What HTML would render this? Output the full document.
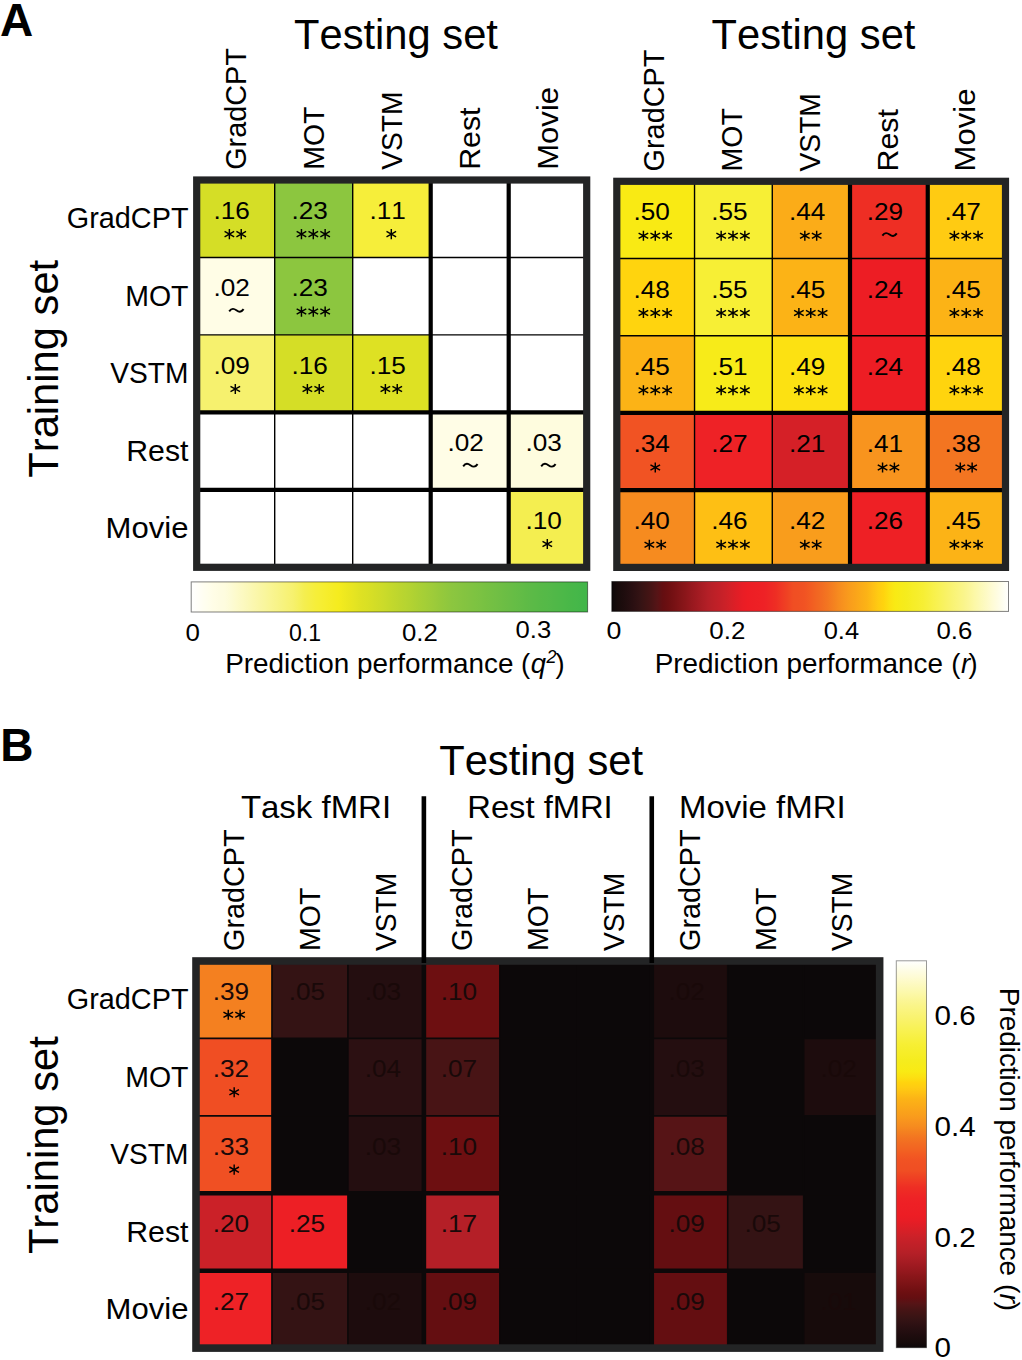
<!DOCTYPE html>
<html><head><meta charset="utf-8"><title>Figure</title>
<style>
html,body{margin:0;padding:0;background:#fff;}
body{width:1022px;height:1360px;overflow:hidden;position:relative;}
svg{position:absolute;left:0;top:0;display:block;}
text{font-family:"Liberation Sans",sans-serif;font-kerning:none;}
</style></head><body>
<svg width="1022" height="1360" viewBox="0 0 1022 1360">
<defs>
<g id="st" stroke="#000" stroke-width="1.45" stroke-linecap="butt" fill="none">
<path d="M0,-5.05V5.05M-4.8,-2.65L4.8,2.65M-4.8,2.65L4.8,-2.65"/>
</g>
<g id="tl" stroke="#000" stroke-width="1.95" fill="none" stroke-linecap="butt">
<path d="M-7.2,1.1C-4.7,-2.4 -2.3,-1.7 0,0C2.3,1.7 4.7,2.4 7.2,-1.1"/>
</g>
<linearGradient id="gG" x1="0" y1="0" x2="1" y2="0"><stop offset="0.0000" stop-color="#ffffff"/><stop offset="0.0143" stop-color="#fffef9"/><stop offset="0.0286" stop-color="#fffef2"/><stop offset="0.0429" stop-color="#fffeec"/><stop offset="0.0571" stop-color="#fffde6"/><stop offset="0.0714" stop-color="#fefce2"/><stop offset="0.0857" stop-color="#fefcde"/><stop offset="0.1000" stop-color="#fdfbd5"/><stop offset="0.1143" stop-color="#fdfacb"/><stop offset="0.1286" stop-color="#fcf9c2"/><stop offset="0.1429" stop-color="#fbf8b9"/><stop offset="0.1571" stop-color="#fbf7af"/><stop offset="0.1714" stop-color="#faf6a6"/><stop offset="0.1857" stop-color="#f9f69d"/><stop offset="0.2000" stop-color="#f9f593"/><stop offset="0.2143" stop-color="#f8f48a"/><stop offset="0.2286" stop-color="#f7f381"/><stop offset="0.2429" stop-color="#f7f277"/><stop offset="0.2571" stop-color="#f6f16e"/><stop offset="0.2714" stop-color="#f5f05f"/><stop offset="0.2857" stop-color="#f4ee50"/><stop offset="0.3000" stop-color="#f5ee45"/><stop offset="0.3143" stop-color="#f6ee3a"/><stop offset="0.3286" stop-color="#f6ee33"/><stop offset="0.3429" stop-color="#f6ed2c"/><stop offset="0.3571" stop-color="#f5ec25"/><stop offset="0.3714" stop-color="#f5ec1e"/><stop offset="0.3857" stop-color="#efe91f"/><stop offset="0.4000" stop-color="#eae620"/><stop offset="0.4143" stop-color="#e4e422"/><stop offset="0.4286" stop-color="#dee123"/><stop offset="0.4429" stop-color="#dae024"/><stop offset="0.4571" stop-color="#d5de26"/><stop offset="0.4714" stop-color="#d0dc28"/><stop offset="0.4857" stop-color="#cbdb2a"/><stop offset="0.5000" stop-color="#c5d92b"/><stop offset="0.5143" stop-color="#c0d72d"/><stop offset="0.5286" stop-color="#bbd52f"/><stop offset="0.5429" stop-color="#b6d431"/><stop offset="0.5571" stop-color="#b1d232"/><stop offset="0.5714" stop-color="#abd034"/><stop offset="0.5857" stop-color="#a6cf36"/><stop offset="0.6000" stop-color="#a1cd38"/><stop offset="0.6143" stop-color="#9ccb3a"/><stop offset="0.6286" stop-color="#96c93b"/><stop offset="0.6429" stop-color="#91c83d"/><stop offset="0.6571" stop-color="#8cc63f"/><stop offset="0.6714" stop-color="#89c540"/><stop offset="0.6857" stop-color="#85c440"/><stop offset="0.7000" stop-color="#82c341"/><stop offset="0.7143" stop-color="#7ec341"/><stop offset="0.7286" stop-color="#7bc242"/><stop offset="0.7429" stop-color="#77c142"/><stop offset="0.7571" stop-color="#74c043"/><stop offset="0.7714" stop-color="#71bf44"/><stop offset="0.7857" stop-color="#6dbe44"/><stop offset="0.8000" stop-color="#6abd45"/><stop offset="0.8143" stop-color="#66bd45"/><stop offset="0.8286" stop-color="#63bc46"/><stop offset="0.8429" stop-color="#5fbb46"/><stop offset="0.8571" stop-color="#5cba47"/><stop offset="0.8714" stop-color="#59ba47"/><stop offset="0.8857" stop-color="#56b947"/><stop offset="0.9000" stop-color="#54b948"/><stop offset="0.9143" stop-color="#51b848"/><stop offset="0.9286" stop-color="#4eb848"/><stop offset="0.9429" stop-color="#4bb848"/><stop offset="0.9571" stop-color="#48b748"/><stop offset="0.9714" stop-color="#46b749"/><stop offset="0.9857" stop-color="#43b649"/><stop offset="1.0000" stop-color="#40b649"/></linearGradient>
<linearGradient id="gH" x1="0" y1="0" x2="1" y2="0"><stop offset="0.0000" stop-color="#0d0809"/><stop offset="0.0143" stop-color="#170b0b"/><stop offset="0.0286" stop-color="#1d0c0d"/><stop offset="0.0429" stop-color="#240e10"/><stop offset="0.0571" stop-color="#2c1012"/><stop offset="0.0714" stop-color="#341314"/><stop offset="0.0857" stop-color="#3e1414"/><stop offset="0.1000" stop-color="#481415"/><stop offset="0.1143" stop-color="#561416"/><stop offset="0.1286" stop-color="#640e11"/><stop offset="0.1429" stop-color="#6d0f11"/><stop offset="0.1571" stop-color="#771114"/><stop offset="0.1714" stop-color="#811417"/><stop offset="0.1857" stop-color="#8b161a"/><stop offset="0.2000" stop-color="#96181e"/><stop offset="0.2143" stop-color="#a01a21"/><stop offset="0.2286" stop-color="#aa1d24"/><stop offset="0.2429" stop-color="#b41f27"/><stop offset="0.2571" stop-color="#bc2027"/><stop offset="0.2714" stop-color="#c32028"/><stop offset="0.2857" stop-color="#cb2128"/><stop offset="0.3000" stop-color="#d52027"/><stop offset="0.3143" stop-color="#df1e26"/><stop offset="0.3286" stop-color="#e81d25"/><stop offset="0.3429" stop-color="#ed1d24"/><stop offset="0.3571" stop-color="#ed1f25"/><stop offset="0.3714" stop-color="#ee2025"/><stop offset="0.3857" stop-color="#ee2226"/><stop offset="0.4000" stop-color="#ee2825"/><stop offset="0.4143" stop-color="#ee2e24"/><stop offset="0.4286" stop-color="#ef3924"/><stop offset="0.4429" stop-color="#ef4323"/><stop offset="0.4571" stop-color="#f04e23"/><stop offset="0.4714" stop-color="#f05023"/><stop offset="0.4857" stop-color="#f15323"/><stop offset="0.5000" stop-color="#f25b22"/><stop offset="0.5143" stop-color="#f26422"/><stop offset="0.5286" stop-color="#f26c22"/><stop offset="0.5429" stop-color="#f37521"/><stop offset="0.5571" stop-color="#f48020"/><stop offset="0.5714" stop-color="#f68b1f"/><stop offset="0.5857" stop-color="#f8941e"/><stop offset="0.6000" stop-color="#f99d1c"/><stop offset="0.6143" stop-color="#faa41a"/><stop offset="0.6286" stop-color="#fbac18"/><stop offset="0.6429" stop-color="#fcb316"/><stop offset="0.6571" stop-color="#febf14"/><stop offset="0.6714" stop-color="#ffcb12"/><stop offset="0.6857" stop-color="#ffd40e"/><stop offset="0.7000" stop-color="#fce112"/><stop offset="0.7143" stop-color="#f9ea14"/><stop offset="0.7286" stop-color="#f7eb19"/><stop offset="0.7429" stop-color="#f5ec1e"/><stop offset="0.7571" stop-color="#f6ed26"/><stop offset="0.7714" stop-color="#f6ee2d"/><stop offset="0.7857" stop-color="#f7ef35"/><stop offset="0.8000" stop-color="#f7f041"/><stop offset="0.8143" stop-color="#f8f14d"/><stop offset="0.8286" stop-color="#f8f259"/><stop offset="0.8429" stop-color="#f9f266"/><stop offset="0.8571" stop-color="#f9f372"/><stop offset="0.8714" stop-color="#faf47e"/><stop offset="0.8857" stop-color="#faf58a"/><stop offset="0.9000" stop-color="#fbf698"/><stop offset="0.9143" stop-color="#fcf8a7"/><stop offset="0.9286" stop-color="#fcf9b6"/><stop offset="0.9429" stop-color="#fdfac4"/><stop offset="0.9571" stop-color="#fefbd3"/><stop offset="0.9714" stop-color="#fefce1"/><stop offset="0.9857" stop-color="#fefef0"/><stop offset="1.0000" stop-color="#ffffff"/></linearGradient>
<linearGradient id="gV" x1="0" y1="1" x2="0" y2="0"><stop offset="0.0000" stop-color="#0d0809"/><stop offset="0.0143" stop-color="#170b0b"/><stop offset="0.0286" stop-color="#1d0c0d"/><stop offset="0.0429" stop-color="#240e10"/><stop offset="0.0571" stop-color="#2c1012"/><stop offset="0.0714" stop-color="#341314"/><stop offset="0.0857" stop-color="#3e1414"/><stop offset="0.1000" stop-color="#481415"/><stop offset="0.1143" stop-color="#561416"/><stop offset="0.1286" stop-color="#640e11"/><stop offset="0.1429" stop-color="#6d0f11"/><stop offset="0.1571" stop-color="#771114"/><stop offset="0.1714" stop-color="#811417"/><stop offset="0.1857" stop-color="#8b161a"/><stop offset="0.2000" stop-color="#96181e"/><stop offset="0.2143" stop-color="#a01a21"/><stop offset="0.2286" stop-color="#aa1d24"/><stop offset="0.2429" stop-color="#b41f27"/><stop offset="0.2571" stop-color="#bc2027"/><stop offset="0.2714" stop-color="#c32028"/><stop offset="0.2857" stop-color="#cb2128"/><stop offset="0.3000" stop-color="#d52027"/><stop offset="0.3143" stop-color="#df1e26"/><stop offset="0.3286" stop-color="#e81d25"/><stop offset="0.3429" stop-color="#ed1d24"/><stop offset="0.3571" stop-color="#ed1f25"/><stop offset="0.3714" stop-color="#ee2025"/><stop offset="0.3857" stop-color="#ee2226"/><stop offset="0.4000" stop-color="#ee2825"/><stop offset="0.4143" stop-color="#ee2e24"/><stop offset="0.4286" stop-color="#ef3924"/><stop offset="0.4429" stop-color="#ef4323"/><stop offset="0.4571" stop-color="#f04e23"/><stop offset="0.4714" stop-color="#f05023"/><stop offset="0.4857" stop-color="#f15323"/><stop offset="0.5000" stop-color="#f25b22"/><stop offset="0.5143" stop-color="#f26422"/><stop offset="0.5286" stop-color="#f26c22"/><stop offset="0.5429" stop-color="#f37521"/><stop offset="0.5571" stop-color="#f48020"/><stop offset="0.5714" stop-color="#f68b1f"/><stop offset="0.5857" stop-color="#f8941e"/><stop offset="0.6000" stop-color="#f99d1c"/><stop offset="0.6143" stop-color="#faa41a"/><stop offset="0.6286" stop-color="#fbac18"/><stop offset="0.6429" stop-color="#fcb316"/><stop offset="0.6571" stop-color="#febf14"/><stop offset="0.6714" stop-color="#ffcb12"/><stop offset="0.6857" stop-color="#ffd40e"/><stop offset="0.7000" stop-color="#fce112"/><stop offset="0.7143" stop-color="#f9ea14"/><stop offset="0.7286" stop-color="#f7eb19"/><stop offset="0.7429" stop-color="#f5ec1e"/><stop offset="0.7571" stop-color="#f6ed26"/><stop offset="0.7714" stop-color="#f6ee2d"/><stop offset="0.7857" stop-color="#f7ef35"/><stop offset="0.8000" stop-color="#f7f041"/><stop offset="0.8143" stop-color="#f8f14d"/><stop offset="0.8286" stop-color="#f8f259"/><stop offset="0.8429" stop-color="#f9f266"/><stop offset="0.8571" stop-color="#f9f372"/><stop offset="0.8714" stop-color="#faf47e"/><stop offset="0.8857" stop-color="#faf58a"/><stop offset="0.9000" stop-color="#fbf698"/><stop offset="0.9143" stop-color="#fcf8a7"/><stop offset="0.9286" stop-color="#fcf9b6"/><stop offset="0.9429" stop-color="#fdfac4"/><stop offset="0.9571" stop-color="#fefbd3"/><stop offset="0.9714" stop-color="#fefce1"/><stop offset="0.9857" stop-color="#fefef0"/><stop offset="1.0000" stop-color="#ffffff"/></linearGradient>
</defs>
<text x="0.00" y="36.00" font-size="46.00" text-anchor="start" font-weight="bold" fill="#000">A</text>
<text x="294.00" y="49.20" font-size="41.70" text-anchor="start" textLength="203.96" lengthAdjust="spacingAndGlyphs" fill="#000">Testing set</text>
<text x="711.50" y="49.20" font-size="41.70" text-anchor="start" textLength="203.96" lengthAdjust="spacingAndGlyphs" fill="#000">Testing set</text>
<text x="0" y="0" transform="translate(57.90,477.70) rotate(-90)" font-size="41.70" text-anchor="start" textLength="217.87" lengthAdjust="spacingAndGlyphs" fill="#000">Training set</text>
<rect x="196.70" y="180.00" width="78.50" height="77.96" fill="#d5de26"/>
<rect x="274.70" y="180.00" width="78.50" height="77.96" fill="#8cc63f"/>
<rect x="352.70" y="180.00" width="78.50" height="77.96" fill="#f6ee3a"/>
<rect x="430.70" y="180.00" width="78.50" height="77.96" fill="#ffffff"/>
<rect x="508.70" y="180.00" width="78.50" height="77.96" fill="#ffffff"/>
<rect x="196.70" y="257.46" width="78.50" height="77.96" fill="#fffde6"/>
<rect x="274.70" y="257.46" width="78.50" height="77.96" fill="#8cc63f"/>
<rect x="352.70" y="257.46" width="78.50" height="77.96" fill="#ffffff"/>
<rect x="430.70" y="257.46" width="78.50" height="77.96" fill="#ffffff"/>
<rect x="508.70" y="257.46" width="78.50" height="77.96" fill="#ffffff"/>
<rect x="196.70" y="334.92" width="78.50" height="77.96" fill="#f6f16e"/>
<rect x="274.70" y="334.92" width="78.50" height="77.96" fill="#d5de26"/>
<rect x="352.70" y="334.92" width="78.50" height="77.96" fill="#dee123"/>
<rect x="430.70" y="334.92" width="78.50" height="77.96" fill="#ffffff"/>
<rect x="508.70" y="334.92" width="78.50" height="77.96" fill="#ffffff"/>
<rect x="196.70" y="412.38" width="78.50" height="77.96" fill="#ffffff"/>
<rect x="274.70" y="412.38" width="78.50" height="77.96" fill="#ffffff"/>
<rect x="352.70" y="412.38" width="78.50" height="77.96" fill="#ffffff"/>
<rect x="430.70" y="412.38" width="78.50" height="77.96" fill="#fffde6"/>
<rect x="508.70" y="412.38" width="78.50" height="77.96" fill="#fefcde"/>
<rect x="196.70" y="489.84" width="78.50" height="77.96" fill="#ffffff"/>
<rect x="274.70" y="489.84" width="78.50" height="77.96" fill="#ffffff"/>
<rect x="352.70" y="489.84" width="78.50" height="77.96" fill="#ffffff"/>
<rect x="430.70" y="489.84" width="78.50" height="77.96" fill="#ffffff"/>
<rect x="508.70" y="489.84" width="78.50" height="77.96" fill="#f4ee50"/>
<line x1="274.70" y1="180.00" x2="274.70" y2="567.30" stroke="#000" stroke-width="1.4"/>
<line x1="352.70" y1="180.00" x2="352.70" y2="567.30" stroke="#000" stroke-width="1.4"/>
<line x1="430.70" y1="180.00" x2="430.70" y2="567.30" stroke="#000" stroke-width="4.2"/>
<line x1="508.70" y1="180.00" x2="508.70" y2="567.30" stroke="#000" stroke-width="4.2"/>
<line x1="196.70" y1="257.46" x2="586.70" y2="257.46" stroke="#000" stroke-width="1.4"/>
<line x1="196.70" y1="334.92" x2="586.70" y2="334.92" stroke="#000" stroke-width="1.4"/>
<line x1="196.70" y1="412.38" x2="586.70" y2="412.38" stroke="#000" stroke-width="4.2"/>
<line x1="196.70" y1="489.84" x2="586.70" y2="489.84" stroke="#000" stroke-width="4.2"/>
<rect x="196.70" y="180.00" width="390.00" height="387.30" fill="none" stroke="#232425" stroke-width="7.2"/>
<text x="213.50" y="218.73" font-size="24.77" text-anchor="start" textLength="36.40" lengthAdjust="spacingAndGlyphs" fill="#000">.16</text>
<use href="#st" x="229.37" y="234.13"/>
<use href="#st" x="241.22" y="234.13"/>
<text x="291.50" y="218.73" font-size="24.77" text-anchor="start" textLength="36.40" lengthAdjust="spacingAndGlyphs" fill="#000">.23</text>
<use href="#st" x="301.45" y="234.13"/>
<use href="#st" x="313.30" y="234.13"/>
<use href="#st" x="325.15" y="234.13"/>
<text x="369.50" y="218.73" font-size="24.77" text-anchor="start" textLength="36.40" lengthAdjust="spacingAndGlyphs" fill="#000">.11</text>
<use href="#st" x="391.30" y="234.13"/>
<text x="213.50" y="296.19" font-size="24.77" text-anchor="start" textLength="36.40" lengthAdjust="spacingAndGlyphs" fill="#000">.02</text>
<use href="#tl" x="236.40" y="310.29"/>
<text x="291.50" y="296.19" font-size="24.77" text-anchor="start" textLength="36.40" lengthAdjust="spacingAndGlyphs" fill="#000">.23</text>
<use href="#st" x="301.45" y="311.59"/>
<use href="#st" x="313.30" y="311.59"/>
<use href="#st" x="325.15" y="311.59"/>
<text x="213.50" y="373.65" font-size="24.77" text-anchor="start" textLength="36.40" lengthAdjust="spacingAndGlyphs" fill="#000">.09</text>
<use href="#st" x="235.30" y="389.05"/>
<text x="291.50" y="373.65" font-size="24.77" text-anchor="start" textLength="36.40" lengthAdjust="spacingAndGlyphs" fill="#000">.16</text>
<use href="#st" x="307.38" y="389.05"/>
<use href="#st" x="319.23" y="389.05"/>
<text x="369.50" y="373.65" font-size="24.77" text-anchor="start" textLength="36.40" lengthAdjust="spacingAndGlyphs" fill="#000">.15</text>
<use href="#st" x="385.38" y="389.05"/>
<use href="#st" x="397.23" y="389.05"/>
<text x="447.50" y="451.11" font-size="24.77" text-anchor="start" textLength="36.40" lengthAdjust="spacingAndGlyphs" fill="#000">.02</text>
<use href="#tl" x="470.40" y="465.21"/>
<text x="525.50" y="451.11" font-size="24.77" text-anchor="start" textLength="36.40" lengthAdjust="spacingAndGlyphs" fill="#000">.03</text>
<use href="#tl" x="548.40" y="465.21"/>
<text x="525.50" y="528.57" font-size="24.77" text-anchor="start" textLength="36.40" lengthAdjust="spacingAndGlyphs" fill="#000">.10</text>
<use href="#st" x="547.30" y="543.97"/>
<text x="188.50" y="228.33" font-size="29.68" text-anchor="end" textLength="121.68" lengthAdjust="spacingAndGlyphs" fill="#000">GradCPT</text>
<text x="0" y="0" transform="translate(246.10,169.80) rotate(-90)" font-size="29.68" text-anchor="start" textLength="121.68" lengthAdjust="spacingAndGlyphs" fill="#000">GradCPT</text>
<text x="188.50" y="305.79" font-size="29.68" text-anchor="end" textLength="63.30" lengthAdjust="spacingAndGlyphs" fill="#000">MOT</text>
<text x="0" y="0" transform="translate(324.10,169.80) rotate(-90)" font-size="29.68" text-anchor="start" textLength="63.30" lengthAdjust="spacingAndGlyphs" fill="#000">MOT</text>
<text x="188.50" y="383.25" font-size="29.68" text-anchor="end" textLength="78.19" lengthAdjust="spacingAndGlyphs" fill="#000">VSTM</text>
<text x="0" y="0" transform="translate(402.10,169.80) rotate(-90)" font-size="29.68" text-anchor="start" textLength="78.19" lengthAdjust="spacingAndGlyphs" fill="#000">VSTM</text>
<text x="188.50" y="460.71" font-size="29.68" text-anchor="end" textLength="62.25" lengthAdjust="spacingAndGlyphs" fill="#000">Rest</text>
<text x="0" y="0" transform="translate(480.10,169.80) rotate(-90)" font-size="29.68" text-anchor="start" textLength="62.25" lengthAdjust="spacingAndGlyphs" fill="#000">Rest</text>
<text x="188.50" y="538.17" font-size="29.68" text-anchor="end" textLength="82.87" lengthAdjust="spacingAndGlyphs" fill="#000">Movie</text>
<text x="0" y="0" transform="translate(558.10,169.80) rotate(-90)" font-size="29.68" text-anchor="start" textLength="82.87" lengthAdjust="spacingAndGlyphs" fill="#000">Movie</text>
<rect x="616.80" y="181.30" width="78.24" height="77.72" fill="#f9ea14"/>
<rect x="694.54" y="181.30" width="78.24" height="77.72" fill="#f7ef35"/>
<rect x="772.28" y="181.30" width="78.24" height="77.72" fill="#fbac18"/>
<rect x="850.02" y="181.30" width="78.24" height="77.72" fill="#ee2e24"/>
<rect x="927.76" y="181.30" width="78.24" height="77.72" fill="#ffcb12"/>
<rect x="616.80" y="258.52" width="78.24" height="77.72" fill="#ffd40e"/>
<rect x="694.54" y="258.52" width="78.24" height="77.72" fill="#f7ef35"/>
<rect x="772.28" y="258.52" width="78.24" height="77.72" fill="#fcb316"/>
<rect x="850.02" y="258.52" width="78.24" height="77.72" fill="#ed1d24"/>
<rect x="927.76" y="258.52" width="78.24" height="77.72" fill="#fcb316"/>
<rect x="616.80" y="335.74" width="78.24" height="77.72" fill="#fcb316"/>
<rect x="694.54" y="335.74" width="78.24" height="77.72" fill="#f7eb19"/>
<rect x="772.28" y="335.74" width="78.24" height="77.72" fill="#fce112"/>
<rect x="850.02" y="335.74" width="78.24" height="77.72" fill="#ed1d24"/>
<rect x="927.76" y="335.74" width="78.24" height="77.72" fill="#ffd40e"/>
<rect x="616.80" y="412.96" width="78.24" height="77.72" fill="#f15323"/>
<rect x="694.54" y="412.96" width="78.24" height="77.72" fill="#ee2226"/>
<rect x="772.28" y="412.96" width="78.24" height="77.72" fill="#d52027"/>
<rect x="850.02" y="412.96" width="78.24" height="77.72" fill="#f8941e"/>
<rect x="927.76" y="412.96" width="78.24" height="77.72" fill="#f37521"/>
<rect x="616.80" y="490.18" width="78.24" height="77.72" fill="#f68b1f"/>
<rect x="694.54" y="490.18" width="78.24" height="77.72" fill="#febf14"/>
<rect x="772.28" y="490.18" width="78.24" height="77.72" fill="#f99d1c"/>
<rect x="850.02" y="490.18" width="78.24" height="77.72" fill="#ee2025"/>
<rect x="927.76" y="490.18" width="78.24" height="77.72" fill="#fcb316"/>
<line x1="694.54" y1="181.30" x2="694.54" y2="567.40" stroke="#000" stroke-width="1.4"/>
<line x1="772.28" y1="181.30" x2="772.28" y2="567.40" stroke="#000" stroke-width="1.4"/>
<line x1="850.02" y1="181.30" x2="850.02" y2="567.40" stroke="#000" stroke-width="4.2"/>
<line x1="927.76" y1="181.30" x2="927.76" y2="567.40" stroke="#000" stroke-width="4.2"/>
<line x1="616.80" y1="258.52" x2="1005.50" y2="258.52" stroke="#000" stroke-width="1.4"/>
<line x1="616.80" y1="335.74" x2="1005.50" y2="335.74" stroke="#000" stroke-width="1.4"/>
<line x1="616.80" y1="412.96" x2="1005.50" y2="412.96" stroke="#000" stroke-width="4.2"/>
<line x1="616.80" y1="490.18" x2="1005.50" y2="490.18" stroke="#000" stroke-width="4.2"/>
<rect x="616.80" y="181.30" width="388.70" height="386.10" fill="none" stroke="#232425" stroke-width="7.2"/>
<text x="633.47" y="220.41" font-size="24.77" text-anchor="start" textLength="36.40" lengthAdjust="spacingAndGlyphs" fill="#000">.50</text>
<use href="#st" x="643.42" y="235.81"/>
<use href="#st" x="655.27" y="235.81"/>
<use href="#st" x="667.12" y="235.81"/>
<text x="711.21" y="220.41" font-size="24.77" text-anchor="start" textLength="36.40" lengthAdjust="spacingAndGlyphs" fill="#000">.55</text>
<use href="#st" x="721.16" y="235.81"/>
<use href="#st" x="733.01" y="235.81"/>
<use href="#st" x="744.86" y="235.81"/>
<text x="788.95" y="220.41" font-size="24.77" text-anchor="start" textLength="36.40" lengthAdjust="spacingAndGlyphs" fill="#000">.44</text>
<use href="#st" x="804.83" y="235.81"/>
<use href="#st" x="816.67" y="235.81"/>
<text x="866.69" y="220.41" font-size="24.77" text-anchor="start" textLength="36.40" lengthAdjust="spacingAndGlyphs" fill="#000">.29</text>
<use href="#tl" x="889.59" y="234.51"/>
<text x="944.43" y="220.41" font-size="24.77" text-anchor="start" textLength="36.40" lengthAdjust="spacingAndGlyphs" fill="#000">.47</text>
<use href="#st" x="954.38" y="235.81"/>
<use href="#st" x="966.23" y="235.81"/>
<use href="#st" x="978.08" y="235.81"/>
<text x="633.47" y="297.63" font-size="24.77" text-anchor="start" textLength="36.40" lengthAdjust="spacingAndGlyphs" fill="#000">.48</text>
<use href="#st" x="643.42" y="313.03"/>
<use href="#st" x="655.27" y="313.03"/>
<use href="#st" x="667.12" y="313.03"/>
<text x="711.21" y="297.63" font-size="24.77" text-anchor="start" textLength="36.40" lengthAdjust="spacingAndGlyphs" fill="#000">.55</text>
<use href="#st" x="721.16" y="313.03"/>
<use href="#st" x="733.01" y="313.03"/>
<use href="#st" x="744.86" y="313.03"/>
<text x="788.95" y="297.63" font-size="24.77" text-anchor="start" textLength="36.40" lengthAdjust="spacingAndGlyphs" fill="#000">.45</text>
<use href="#st" x="798.90" y="313.03"/>
<use href="#st" x="810.75" y="313.03"/>
<use href="#st" x="822.60" y="313.03"/>
<text x="866.69" y="297.63" font-size="24.77" text-anchor="start" textLength="36.40" lengthAdjust="spacingAndGlyphs" fill="#000">.24</text>
<text x="944.43" y="297.63" font-size="24.77" text-anchor="start" textLength="36.40" lengthAdjust="spacingAndGlyphs" fill="#000">.45</text>
<use href="#st" x="954.38" y="313.03"/>
<use href="#st" x="966.23" y="313.03"/>
<use href="#st" x="978.08" y="313.03"/>
<text x="633.47" y="374.85" font-size="24.77" text-anchor="start" textLength="36.40" lengthAdjust="spacingAndGlyphs" fill="#000">.45</text>
<use href="#st" x="643.42" y="390.25"/>
<use href="#st" x="655.27" y="390.25"/>
<use href="#st" x="667.12" y="390.25"/>
<text x="711.21" y="374.85" font-size="24.77" text-anchor="start" textLength="36.40" lengthAdjust="spacingAndGlyphs" fill="#000">.51</text>
<use href="#st" x="721.16" y="390.25"/>
<use href="#st" x="733.01" y="390.25"/>
<use href="#st" x="744.86" y="390.25"/>
<text x="788.95" y="374.85" font-size="24.77" text-anchor="start" textLength="36.40" lengthAdjust="spacingAndGlyphs" fill="#000">.49</text>
<use href="#st" x="798.90" y="390.25"/>
<use href="#st" x="810.75" y="390.25"/>
<use href="#st" x="822.60" y="390.25"/>
<text x="866.69" y="374.85" font-size="24.77" text-anchor="start" textLength="36.40" lengthAdjust="spacingAndGlyphs" fill="#000">.24</text>
<text x="944.43" y="374.85" font-size="24.77" text-anchor="start" textLength="36.40" lengthAdjust="spacingAndGlyphs" fill="#000">.48</text>
<use href="#st" x="954.38" y="390.25"/>
<use href="#st" x="966.23" y="390.25"/>
<use href="#st" x="978.08" y="390.25"/>
<text x="633.47" y="452.07" font-size="24.77" text-anchor="start" textLength="36.40" lengthAdjust="spacingAndGlyphs" fill="#000">.34</text>
<use href="#st" x="655.27" y="467.47"/>
<text x="711.21" y="452.07" font-size="24.77" text-anchor="start" textLength="36.40" lengthAdjust="spacingAndGlyphs" fill="#000">.27</text>
<text x="788.95" y="452.07" font-size="24.77" text-anchor="start" textLength="36.40" lengthAdjust="spacingAndGlyphs" fill="#000">.21</text>
<text x="866.69" y="452.07" font-size="24.77" text-anchor="start" textLength="36.40" lengthAdjust="spacingAndGlyphs" fill="#000">.41</text>
<use href="#st" x="882.56" y="467.47"/>
<use href="#st" x="894.41" y="467.47"/>
<text x="944.43" y="452.07" font-size="24.77" text-anchor="start" textLength="36.40" lengthAdjust="spacingAndGlyphs" fill="#000">.38</text>
<use href="#st" x="960.30" y="467.47"/>
<use href="#st" x="972.15" y="467.47"/>
<text x="633.47" y="529.29" font-size="24.77" text-anchor="start" textLength="36.40" lengthAdjust="spacingAndGlyphs" fill="#000">.40</text>
<use href="#st" x="649.35" y="544.69"/>
<use href="#st" x="661.19" y="544.69"/>
<text x="711.21" y="529.29" font-size="24.77" text-anchor="start" textLength="36.40" lengthAdjust="spacingAndGlyphs" fill="#000">.46</text>
<use href="#st" x="721.16" y="544.69"/>
<use href="#st" x="733.01" y="544.69"/>
<use href="#st" x="744.86" y="544.69"/>
<text x="788.95" y="529.29" font-size="24.77" text-anchor="start" textLength="36.40" lengthAdjust="spacingAndGlyphs" fill="#000">.42</text>
<use href="#st" x="804.83" y="544.69"/>
<use href="#st" x="816.67" y="544.69"/>
<text x="866.69" y="529.29" font-size="24.77" text-anchor="start" textLength="36.40" lengthAdjust="spacingAndGlyphs" fill="#000">.26</text>
<text x="944.43" y="529.29" font-size="24.77" text-anchor="start" textLength="36.40" lengthAdjust="spacingAndGlyphs" fill="#000">.45</text>
<use href="#st" x="954.38" y="544.69"/>
<use href="#st" x="966.23" y="544.69"/>
<use href="#st" x="978.08" y="544.69"/>
<text x="0" y="0" transform="translate(664.47,171.40) rotate(-90)" font-size="29.68" text-anchor="start" textLength="121.68" lengthAdjust="spacingAndGlyphs" fill="#000">GradCPT</text>
<text x="0" y="0" transform="translate(742.21,171.40) rotate(-90)" font-size="29.68" text-anchor="start" textLength="63.30" lengthAdjust="spacingAndGlyphs" fill="#000">MOT</text>
<text x="0" y="0" transform="translate(819.95,171.40) rotate(-90)" font-size="29.68" text-anchor="start" textLength="78.19" lengthAdjust="spacingAndGlyphs" fill="#000">VSTM</text>
<text x="0" y="0" transform="translate(897.69,171.40) rotate(-90)" font-size="29.68" text-anchor="start" textLength="62.25" lengthAdjust="spacingAndGlyphs" fill="#000">Rest</text>
<text x="0" y="0" transform="translate(975.43,171.40) rotate(-90)" font-size="29.68" text-anchor="start" textLength="82.87" lengthAdjust="spacingAndGlyphs" fill="#000">Movie</text>
<rect x="191.2" y="581.9" width="396.4" height="30.1" fill="url(#gG)" stroke="#000" stroke-opacity="0.5" stroke-width="1"/>
<rect x="611.8" y="581.5" width="396.7" height="29.9" fill="url(#gH)" stroke="#000" stroke-opacity="0.5" stroke-width="1"/>
<text x="185.49" y="640.60" font-size="24.00" text-anchor="start" textLength="14.43" lengthAdjust="spacingAndGlyphs" fill="#000">0</text>
<text x="288.95" y="640.60" font-size="24.00" text-anchor="start" textLength="32.13" lengthAdjust="spacingAndGlyphs" fill="#000">0.1</text>
<text x="401.94" y="640.60" font-size="24.00" text-anchor="start" textLength="35.80" lengthAdjust="spacingAndGlyphs" fill="#000">0.2</text>
<text x="515.55" y="638.10" font-size="24.00" text-anchor="start" textLength="35.63" lengthAdjust="spacingAndGlyphs" fill="#000">0.3</text>
<text x="606.45" y="638.80" font-size="24.00" text-anchor="start" textLength="14.89" lengthAdjust="spacingAndGlyphs" fill="#000">0</text>
<text x="709.34" y="638.80" font-size="24.00" text-anchor="start" textLength="36.01" lengthAdjust="spacingAndGlyphs" fill="#000">0.2</text>
<text x="823.65" y="638.80" font-size="24.00" text-anchor="start" textLength="35.44" lengthAdjust="spacingAndGlyphs" fill="#000">0.4</text>
<text x="936.44" y="638.80" font-size="24.00" text-anchor="start" textLength="35.84" lengthAdjust="spacingAndGlyphs" fill="#000">0.6</text>
<text x="225.20" y="672.90" font-size="27.40" text-anchor="start" textLength="288.30" lengthAdjust="spacingAndGlyphs" fill="#000">Prediction performance</text>
<text x="521.10" y="672.90" font-size="27.40" text-anchor="start" fill="#000">(</text>
<text x="530.70" y="672.90" font-size="27.40" text-anchor="start" font-style="italic" fill="#000">q</text>
<text x="546.60" y="663.40" font-size="18.00" text-anchor="start" font-style="italic" fill="#000">2</text>
<text x="555.40" y="672.90" font-size="27.40" text-anchor="start" fill="#000">)</text>
<text x="654.70" y="672.90" font-size="27.40" text-anchor="start" textLength="288.30" lengthAdjust="spacingAndGlyphs" fill="#000">Prediction performance</text>
<text x="951.20" y="672.90" font-size="27.40" text-anchor="start" fill="#000">(</text>
<text x="960.90" y="672.90" font-size="27.40" text-anchor="start" font-style="italic" fill="#000">r</text>
<text x="968.40" y="672.90" font-size="27.40" text-anchor="start" fill="#000">)</text>
<text x="0.20" y="761.00" font-size="46.00" text-anchor="start" font-weight="bold" fill="#000">B</text>
<text x="439.20" y="774.60" font-size="41.70" text-anchor="start" textLength="203.96" lengthAdjust="spacingAndGlyphs" fill="#000">Testing set</text>
<text x="0" y="0" transform="translate(57.90,1254.10) rotate(-90)" font-size="41.70" text-anchor="start" textLength="217.87" lengthAdjust="spacingAndGlyphs" fill="#000">Training set</text>
<text x="240.90" y="817.90" font-size="32.00" text-anchor="start" textLength="150.15" lengthAdjust="spacingAndGlyphs" fill="#000">Task fMRI</text>
<text x="467.30" y="817.90" font-size="32.00" text-anchor="start" textLength="145.36" lengthAdjust="spacingAndGlyphs" fill="#000">Rest fMRI</text>
<text x="679.00" y="817.90" font-size="32.00" text-anchor="start" textLength="166.65" lengthAdjust="spacingAndGlyphs" fill="#000">Movie fMRI</text>
<rect x="196.00" y="961.00" width="76.46" height="77.92" fill="#f48020"/>
<rect x="271.96" y="961.00" width="76.46" height="77.92" fill="#341314"/>
<rect x="347.92" y="961.00" width="76.46" height="77.92" fill="#240e10"/>
<rect x="423.88" y="961.00" width="76.46" height="77.92" fill="#6d0f11"/>
<rect x="499.84" y="961.00" width="76.46" height="77.92" fill="#0c0809"/>
<rect x="575.80" y="961.00" width="76.46" height="77.92" fill="#0c0809"/>
<rect x="651.76" y="961.00" width="76.46" height="77.92" fill="#1d0c0d"/>
<rect x="727.72" y="961.00" width="76.46" height="77.92" fill="#0c0809"/>
<rect x="803.68" y="961.00" width="76.46" height="77.92" fill="#0c0809"/>
<rect x="196.00" y="1038.42" width="76.46" height="77.92" fill="#f04e23"/>
<rect x="271.96" y="1038.42" width="76.46" height="77.92" fill="#0c0809"/>
<rect x="347.92" y="1038.42" width="76.46" height="77.92" fill="#2c1012"/>
<rect x="423.88" y="1038.42" width="76.46" height="77.92" fill="#481415"/>
<rect x="499.84" y="1038.42" width="76.46" height="77.92" fill="#0c0809"/>
<rect x="575.80" y="1038.42" width="76.46" height="77.92" fill="#0c0809"/>
<rect x="651.76" y="1038.42" width="76.46" height="77.92" fill="#240e10"/>
<rect x="727.72" y="1038.42" width="76.46" height="77.92" fill="#0c0809"/>
<rect x="803.68" y="1038.42" width="76.46" height="77.92" fill="#1d0c0d"/>
<rect x="196.00" y="1115.84" width="76.46" height="77.92" fill="#f05023"/>
<rect x="271.96" y="1115.84" width="76.46" height="77.92" fill="#0c0809"/>
<rect x="347.92" y="1115.84" width="76.46" height="77.92" fill="#240e10"/>
<rect x="423.88" y="1115.84" width="76.46" height="77.92" fill="#6d0f11"/>
<rect x="499.84" y="1115.84" width="76.46" height="77.92" fill="#0c0809"/>
<rect x="575.80" y="1115.84" width="76.46" height="77.92" fill="#0c0809"/>
<rect x="651.76" y="1115.84" width="76.46" height="77.92" fill="#561416"/>
<rect x="727.72" y="1115.84" width="76.46" height="77.92" fill="#0c0809"/>
<rect x="803.68" y="1115.84" width="76.46" height="77.92" fill="#0c0809"/>
<rect x="196.00" y="1193.26" width="76.46" height="77.92" fill="#cb2128"/>
<rect x="271.96" y="1193.26" width="76.46" height="77.92" fill="#ed1f25"/>
<rect x="347.92" y="1193.26" width="76.46" height="77.92" fill="#0c0809"/>
<rect x="423.88" y="1193.26" width="76.46" height="77.92" fill="#b41f27"/>
<rect x="499.84" y="1193.26" width="76.46" height="77.92" fill="#0c0809"/>
<rect x="575.80" y="1193.26" width="76.46" height="77.92" fill="#0c0809"/>
<rect x="651.76" y="1193.26" width="76.46" height="77.92" fill="#640e11"/>
<rect x="727.72" y="1193.26" width="76.46" height="77.92" fill="#341314"/>
<rect x="803.68" y="1193.26" width="76.46" height="77.92" fill="#0c0809"/>
<rect x="196.00" y="1270.68" width="76.46" height="77.92" fill="#ee2226"/>
<rect x="271.96" y="1270.68" width="76.46" height="77.92" fill="#341314"/>
<rect x="347.92" y="1270.68" width="76.46" height="77.92" fill="#1d0c0d"/>
<rect x="423.88" y="1270.68" width="76.46" height="77.92" fill="#640e11"/>
<rect x="499.84" y="1270.68" width="76.46" height="77.92" fill="#0c0809"/>
<rect x="575.80" y="1270.68" width="76.46" height="77.92" fill="#0c0809"/>
<rect x="651.76" y="1270.68" width="76.46" height="77.92" fill="#640e11"/>
<rect x="727.72" y="1270.68" width="76.46" height="77.92" fill="#0c0809"/>
<rect x="803.68" y="1270.68" width="76.46" height="77.92" fill="#170b0b"/>
<line x1="271.96" y1="961.00" x2="271.96" y2="1348.10" stroke="#0c0809" stroke-width="1.6"/>
<line x1="347.92" y1="961.00" x2="347.92" y2="1348.10" stroke="#0c0809" stroke-width="1.6"/>
<line x1="423.88" y1="961.00" x2="423.88" y2="1348.10" stroke="#0c0809" stroke-width="4.6"/>
<line x1="499.84" y1="961.00" x2="499.84" y2="1348.10" stroke="#0c0809" stroke-width="1.6"/>
<line x1="575.80" y1="961.00" x2="575.80" y2="1348.10" stroke="#0c0809" stroke-width="1.6"/>
<line x1="651.76" y1="961.00" x2="651.76" y2="1348.10" stroke="#0c0809" stroke-width="4.6"/>
<line x1="727.72" y1="961.00" x2="727.72" y2="1348.10" stroke="#0c0809" stroke-width="1.6"/>
<line x1="803.68" y1="961.00" x2="803.68" y2="1348.10" stroke="#0c0809" stroke-width="1.6"/>
<line x1="196.00" y1="1038.42" x2="879.64" y2="1038.42" stroke="#0c0809" stroke-width="1.6"/>
<line x1="196.00" y1="1115.84" x2="879.64" y2="1115.84" stroke="#0c0809" stroke-width="1.6"/>
<line x1="196.00" y1="1193.26" x2="879.64" y2="1193.26" stroke="#0c0809" stroke-width="4.6"/>
<line x1="196.00" y1="1270.68" x2="879.64" y2="1270.68" stroke="#0c0809" stroke-width="4.6"/>
<rect x="196.00" y="961.00" width="683.64" height="387.10" fill="none" stroke="#232425" stroke-width="7.6"/>
<text x="212.78" y="1000.01" font-size="24.77" text-anchor="start" textLength="36.40" lengthAdjust="spacingAndGlyphs" fill="#190909">.39</text>
<use href="#st" x="228.25" y="1014.81"/>
<use href="#st" x="240.10" y="1014.81"/>
<text x="288.74" y="1000.01" font-size="24.77" text-anchor="start" textLength="36.40" lengthAdjust="spacingAndGlyphs" fill="#190909">.05</text>
<text x="364.70" y="1000.01" font-size="24.77" text-anchor="start" textLength="36.40" lengthAdjust="spacingAndGlyphs" fill="#190909">.03</text>
<text x="440.66" y="1000.01" font-size="24.77" text-anchor="start" textLength="36.40" lengthAdjust="spacingAndGlyphs" fill="#190909">.10</text>
<text x="668.54" y="1000.01" font-size="24.77" text-anchor="start" textLength="36.40" lengthAdjust="spacingAndGlyphs" fill="#190909">.02</text>
<text x="212.78" y="1077.43" font-size="24.77" text-anchor="start" textLength="36.40" lengthAdjust="spacingAndGlyphs" fill="#190909">.32</text>
<use href="#st" x="234.18" y="1092.23"/>
<text x="364.70" y="1077.43" font-size="24.77" text-anchor="start" textLength="36.40" lengthAdjust="spacingAndGlyphs" fill="#190909">.04</text>
<text x="440.66" y="1077.43" font-size="24.77" text-anchor="start" textLength="36.40" lengthAdjust="spacingAndGlyphs" fill="#190909">.07</text>
<text x="668.54" y="1077.43" font-size="24.77" text-anchor="start" textLength="36.40" lengthAdjust="spacingAndGlyphs" fill="#190909">.03</text>
<text x="820.46" y="1077.43" font-size="24.77" text-anchor="start" textLength="36.40" lengthAdjust="spacingAndGlyphs" fill="#190909">.02</text>
<text x="212.78" y="1154.85" font-size="24.77" text-anchor="start" textLength="36.40" lengthAdjust="spacingAndGlyphs" fill="#190909">.33</text>
<use href="#st" x="234.18" y="1169.65"/>
<text x="364.70" y="1154.85" font-size="24.77" text-anchor="start" textLength="36.40" lengthAdjust="spacingAndGlyphs" fill="#190909">.03</text>
<text x="440.66" y="1154.85" font-size="24.77" text-anchor="start" textLength="36.40" lengthAdjust="spacingAndGlyphs" fill="#190909">.10</text>
<text x="668.54" y="1154.85" font-size="24.77" text-anchor="start" textLength="36.40" lengthAdjust="spacingAndGlyphs" fill="#190909">.08</text>
<text x="212.78" y="1232.27" font-size="24.77" text-anchor="start" textLength="36.40" lengthAdjust="spacingAndGlyphs" fill="#190909">.20</text>
<text x="288.74" y="1232.27" font-size="24.77" text-anchor="start" textLength="36.40" lengthAdjust="spacingAndGlyphs" fill="#190909">.25</text>
<text x="440.66" y="1232.27" font-size="24.77" text-anchor="start" textLength="36.40" lengthAdjust="spacingAndGlyphs" fill="#190909">.17</text>
<text x="668.54" y="1232.27" font-size="24.77" text-anchor="start" textLength="36.40" lengthAdjust="spacingAndGlyphs" fill="#190909">.09</text>
<text x="744.50" y="1232.27" font-size="24.77" text-anchor="start" textLength="36.40" lengthAdjust="spacingAndGlyphs" fill="#190909">.05</text>
<text x="212.78" y="1309.69" font-size="24.77" text-anchor="start" textLength="36.40" lengthAdjust="spacingAndGlyphs" fill="#190909">.27</text>
<text x="288.74" y="1309.69" font-size="24.77" text-anchor="start" textLength="36.40" lengthAdjust="spacingAndGlyphs" fill="#190909">.05</text>
<text x="364.70" y="1309.69" font-size="24.77" text-anchor="start" textLength="36.40" lengthAdjust="spacingAndGlyphs" fill="#190909">.02</text>
<text x="440.66" y="1309.69" font-size="24.77" text-anchor="start" textLength="36.40" lengthAdjust="spacingAndGlyphs" fill="#190909">.09</text>
<text x="668.54" y="1309.69" font-size="24.77" text-anchor="start" textLength="36.40" lengthAdjust="spacingAndGlyphs" fill="#190909">.09</text>
<text x="820.46" y="1309.69" font-size="24.77" text-anchor="start" textLength="36.40" lengthAdjust="spacingAndGlyphs" fill="#190909">.01</text>
<line x1="423.88" y1="796.2" x2="423.88" y2="963" stroke="#000" stroke-width="4.6"/>
<line x1="651.76" y1="796.2" x2="651.76" y2="963" stroke="#000" stroke-width="4.6"/>
<text x="0" y="0" transform="translate(243.98,951.00) rotate(-90)" font-size="29.68" text-anchor="start" textLength="121.68" lengthAdjust="spacingAndGlyphs" fill="#000">GradCPT</text>
<text x="0" y="0" transform="translate(319.94,951.00) rotate(-90)" font-size="29.68" text-anchor="start" textLength="63.30" lengthAdjust="spacingAndGlyphs" fill="#000">MOT</text>
<text x="0" y="0" transform="translate(395.90,951.00) rotate(-90)" font-size="29.68" text-anchor="start" textLength="78.19" lengthAdjust="spacingAndGlyphs" fill="#000">VSTM</text>
<text x="0" y="0" transform="translate(471.86,951.00) rotate(-90)" font-size="29.68" text-anchor="start" textLength="121.68" lengthAdjust="spacingAndGlyphs" fill="#000">GradCPT</text>
<text x="0" y="0" transform="translate(547.82,951.00) rotate(-90)" font-size="29.68" text-anchor="start" textLength="63.30" lengthAdjust="spacingAndGlyphs" fill="#000">MOT</text>
<text x="0" y="0" transform="translate(623.78,951.00) rotate(-90)" font-size="29.68" text-anchor="start" textLength="78.19" lengthAdjust="spacingAndGlyphs" fill="#000">VSTM</text>
<text x="0" y="0" transform="translate(699.74,951.00) rotate(-90)" font-size="29.68" text-anchor="start" textLength="121.68" lengthAdjust="spacingAndGlyphs" fill="#000">GradCPT</text>
<text x="0" y="0" transform="translate(775.70,951.00) rotate(-90)" font-size="29.68" text-anchor="start" textLength="63.30" lengthAdjust="spacingAndGlyphs" fill="#000">MOT</text>
<text x="0" y="0" transform="translate(851.66,951.00) rotate(-90)" font-size="29.68" text-anchor="start" textLength="78.19" lengthAdjust="spacingAndGlyphs" fill="#000">VSTM</text>
<text x="188.50" y="1009.31" font-size="29.68" text-anchor="end" textLength="121.68" lengthAdjust="spacingAndGlyphs" fill="#000">GradCPT</text>
<text x="188.50" y="1086.73" font-size="29.68" text-anchor="end" textLength="63.30" lengthAdjust="spacingAndGlyphs" fill="#000">MOT</text>
<text x="188.50" y="1164.15" font-size="29.68" text-anchor="end" textLength="78.19" lengthAdjust="spacingAndGlyphs" fill="#000">VSTM</text>
<text x="188.50" y="1241.57" font-size="29.68" text-anchor="end" textLength="62.25" lengthAdjust="spacingAndGlyphs" fill="#000">Rest</text>
<text x="188.50" y="1318.99" font-size="29.68" text-anchor="end" textLength="82.87" lengthAdjust="spacingAndGlyphs" fill="#000">Movie</text>
<rect x="896.3" y="960.8" width="30.2" height="386.9" fill="url(#gV)" stroke="#000" stroke-opacity="0.4" stroke-width="1"/>
<text x="934.50" y="1024.69" font-size="27.45" text-anchor="start" textLength="41.19" lengthAdjust="spacingAndGlyphs" fill="#000">0.6</text>
<text x="934.50" y="1135.76" font-size="27.45" text-anchor="start" textLength="41.19" lengthAdjust="spacingAndGlyphs" fill="#000">0.4</text>
<text x="934.50" y="1246.83" font-size="27.45" text-anchor="start" textLength="41.19" lengthAdjust="spacingAndGlyphs" fill="#000">0.2</text>
<text x="934.50" y="1357.10" font-size="27.45" text-anchor="start" textLength="16.48" lengthAdjust="spacingAndGlyphs" fill="#000">0</text>
<text x="0" y="0" transform="translate(999.80,987.80) rotate(90)" font-size="28.40" text-anchor="start" textLength="288.30" lengthAdjust="spacingAndGlyphs" fill="#000">Prediction performance</text>
<text x="0" y="0" transform="translate(999.80,1283.90) rotate(90)" font-size="28.40" text-anchor="start" fill="#000">(</text>
<text x="0" y="0" transform="translate(999.80,1293.40) rotate(90)" font-size="28.40" text-anchor="start" font-style="italic" fill="#000">r</text>
<text x="0" y="0" transform="translate(999.80,1301.50) rotate(90)" font-size="28.40" text-anchor="start" fill="#000">)</text>
</svg>
</body></html>
